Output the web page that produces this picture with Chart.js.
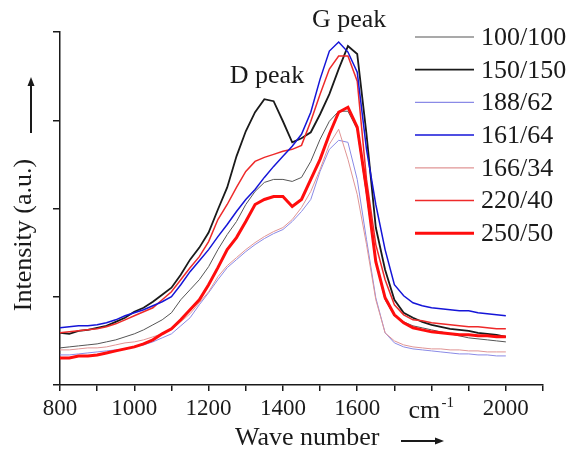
<!DOCTYPE html>
<html>
<head>
<meta charset="utf-8">
<script src="https://cdn.jsdelivr.net/npm/chart.js@4.4.0/dist/chart.umd.min.js"></script>
<style>
  html, body { margin: 0; padding: 0; background: #fff; }
  #chart { display: block; }
</style>
</head>
<body>
<canvas id="chart" width="570" height="456"></canvas>
<script>
// wave numbers (cm-1)
const wave = [800, 825, 850, 875, 900, 925, 950, 975, 1000, 1025, 1050, 1075, 1100, 1125, 1150, 1175,
  1200, 1225, 1250, 1275, 1300, 1325, 1350, 1375, 1400, 1425, 1450, 1475, 1500, 1525, 1550, 1575,
  1600, 1625, 1650, 1675, 1700, 1725, 1750, 1775, 1800, 1825, 1850, 1875, 1900, 1925, 1950, 1975, 2000];

// intensities (a.u.)
const r100_100 = [37, 38, 39, 40, 41, 43, 45, 48, 51, 55, 60, 65, 72, 85, 95, 105, 118, 135, 150, 163,
  180, 193, 202, 205, 205, 203, 207, 223, 245, 263, 273, 273, 255, 190, 123, 85, 69, 63, 59, 57,
  55, 53, 51, 49, 47, 46, 45, 44, 43];
const r150_150 = [52, 51, 54, 55, 57, 59, 63, 67, 73, 77, 83, 90, 97, 110, 125, 137, 152, 175, 197, 228,
  253, 272, 285, 283, 263, 242, 246, 252, 270, 290, 315, 338, 330, 250, 157, 115, 85, 72, 67, 63,
  60, 58, 56, 55, 54, 52, 51, 50, 48];
const r188_62 = [30, 30, 31, 32, 33, 34, 35, 36, 38, 40, 43, 47, 51, 59, 67, 80, 92, 105, 117, 125,
  133, 140, 146, 151, 155, 163, 173, 185, 213, 235, 244, 242, 205, 145, 87, 52, 42, 38, 36, 35,
  34, 33, 32, 31, 31, 30, 30, 29, 29];
const r161_64 = [57, 58, 59, 59, 60, 62, 65, 69, 72, 75, 79, 83, 88, 100, 113, 124, 135, 148, 160, 173,
  185, 195, 207, 218, 228, 238, 250, 272, 305, 333, 342, 332, 312, 235, 180, 135, 100, 89, 82, 79,
  77, 76, 75, 74, 74, 72, 71, 70, 69];
const r166_34 = [35, 35, 36, 37, 37, 38, 40, 42, 43, 45, 48, 51, 55, 63, 71, 82, 93, 108, 119, 127,
  135, 142, 148, 153, 157, 165, 177, 193, 215, 240, 255, 225, 190, 140, 85, 52, 44, 40, 38, 37,
  36, 36, 35, 35, 34, 34, 33, 33, 33];
const r220_40 = [52, 53, 54, 55, 56, 58, 61, 65, 69, 73, 77, 85, 93, 105, 117, 128, 143, 165, 180, 197,
  213, 223, 227, 230, 233, 235, 239, 263, 290, 315, 328, 328, 303, 205, 140, 105, 80, 70, 65, 64,
  62, 61, 60, 59, 58, 58, 57, 56, 56];
const r250_50 = [27, 27, 29, 29, 30, 32, 34, 36, 38, 41, 45, 51, 56, 65, 75, 85, 100, 117, 135, 147,
  163, 180, 185, 188, 188, 178, 185, 205, 225, 250, 272, 277, 257, 195, 123, 87, 70, 62, 57, 55,
  53, 52, 51, 50, 50, 49, 49, 48, 48];

const labels = ['100/100', '150/150', '188/62', '161/64', '166/34', '220/40', '250/50'];
const series = [r100_100, r150_150, r188_62, r161_64, r166_34, r220_40, r250_50];

const FONT = '"Liberation Serif", "Times New Roman", serif';
const INK = '#1a1a1a';

const styles = [
  { color: '#555555', width: 1, order: 3 },
  { color: '#1a1a1a', width: 1.8, order: 2 },
  { color: '#8a8ae6', width: 1, order: 5 },
  { color: '#1515d8', width: 1.5, order: 1 },
  { color: '#e09595', width: 1, order: 4 },
  { color: '#ee2a2a', width: 1.5, order: 1 },
  { color: '#ff0d0d', width: 3, order: -1 }
];

let datasets = [];
for (let i = 0; i < series.length; i++) {
  datasets.push({
    label: labels[i],
    data: wave.map((w, j) => ({ x: w, y: series[i][j] })),
    borderColor: styles[i].color,
    borderWidth: styles[i].width,
    order: styles[i].order,
    pointRadius: 0,
    tension: 0,
    fill: false
  });
}

function arrow(ctx, x1, y1, x2, y2) {
  const a = Math.atan2(y2 - y1, x2 - x1);
  ctx.beginPath();
  ctx.moveTo(x1, y1);
  ctx.lineTo(x2 - 6 * Math.cos(a), y2 - 6 * Math.sin(a));
  ctx.lineWidth = 2;
  ctx.stroke();
  ctx.beginPath();
  ctx.moveTo(x2, y2);
  ctx.lineTo(x2 - 9 * Math.cos(a) + 3.5 * Math.sin(a), y2 - 9 * Math.sin(a) - 3.5 * Math.cos(a));
  ctx.lineTo(x2 - 9 * Math.cos(a) - 3.5 * Math.sin(a), y2 - 9 * Math.sin(a) + 3.5 * Math.cos(a));
  ctx.closePath();
  ctx.fill();
}

const textPlugin = {
  id: 'texts',
  afterDraw: chart => {
    const ctx = chart.ctx;
    const xs = chart.scales.x;
    const ys = chart.scales.y;
    ctx.save();
    ctx.fillStyle = INK;
    ctx.strokeStyle = INK;
    ctx.textBaseline = 'alphabetic';

    // peak labels
    ctx.font = '26px ' + FONT;
    ctx.textAlign = 'center';
    ctx.fillText('D peak', xs.getPixelForValue(1357), 83);
    ctx.fillText('G peak', xs.getPixelForValue(1578), 27);

    // unit label in place of the 1800 tick
    const cx = xs.getPixelForValue(1800);
    ctx.textAlign = 'left';
    ctx.font = '26px ' + FONT;
    ctx.fillText('cm', cx - 23, 418);
    ctx.font = '15px ' + FONT;
    ctx.fillText('-1', cx + 10, 407);

    // x title
    ctx.font = '26px ' + FONT;
    ctx.fillText('Wave number', 235, 445);
    arrow(ctx, 401, 441, 444, 441);

    // y title
    ctx.save();
    ctx.translate(31, 235);
    ctx.rotate(-Math.PI / 2);
    ctx.textAlign = 'center';
    ctx.fillText('Intensity (a.u.)', 0, 0);
    ctx.restore();
    arrow(ctx, 31, 133, 31, 77);

    // legend
    ctx.font = '26px ' + FONT;
    ctx.textAlign = 'left';
    ctx.textBaseline = 'middle';
    chart.data.datasets.forEach((d, i) => {
      const y = 37 + i * 32.7;
      ctx.beginPath();
      ctx.moveTo(415, y);
      ctx.lineTo(474, y);
      ctx.strokeStyle = d.borderColor;
      ctx.lineWidth = Math.max(d.borderWidth, 1.2);
      ctx.stroke();
      ctx.fillText(d.label, 481, y + 1);
    });
    ctx.restore();
  }
};

const chart = new Chart(document.getElementById('chart'), {
  type: 'line',
  data: { datasets: datasets },
  options: {
    responsive: false,
    animation: false,
    layout: { padding: { left: 0, top: 32, right: 27, bottom: 0 } },
    plugins: { legend: { display: false }, tooltip: { enabled: false } },
    scales: {
      x: {
        type: 'linear',
        min: 800,
        max: 2100,
        border: { display: true, color: INK, width: 1.5 },
        grid: { drawOnChartArea: false, drawTicks: true, tickLength: 6, color: INK, lineWidth: 1.5 },
        ticks: {
          stepSize: 100,
          autoSkip: false,
          maxRotation: 0,
          padding: 4,
          color: INK,
          font: { family: FONT, size: 23 },
          callback: v => (v % 200 === 0 && v !== 1800 && v <= 2000) ? v : ''
        },
        afterFit: scale => { scale.height = 71; }
      },
      y: {
        min: 0,
        max: 352,
        border: { display: true, color: INK, width: 1.5 },
        grid: { drawOnChartArea: false, drawTicks: true, tickLength: 7, color: INK, lineWidth: 1.5 },
        ticks: { stepSize: 88, display: false },
        afterFit: scale => { scale.width = 60; }
      }
    }
  },
  plugins: [textPlugin]
});
</script>
</body>
</html>
